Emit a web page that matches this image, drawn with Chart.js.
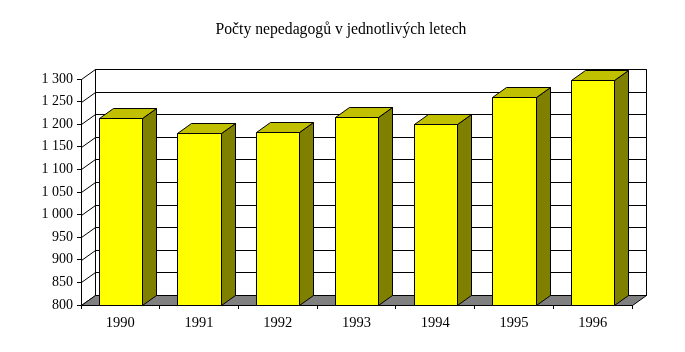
<!DOCTYPE html>
<html>
<head>
<meta charset="utf-8">
<script src="https://cdn.jsdelivr.net/npm/chart.js@4/dist/chart.umd.min.js"></script>
<style>
  html, body { margin: 0; padding: 0; background: #ffffff; }
  #wrap { width: 685px; height: 352px; position: relative; }
</style>
</head>
<body>
<div id="wrap"><canvas id="c" width="685" height="352"></canvas></div>
<script>
const title = 'Počty nepedagogů v jednotlivých letech';
const years = ['1990', '1991', '1992', '1993', '1994', '1995', '1996'];
const counts = [1214, 1180, 1182, 1217, 1200, 1260, 1297];
const yMin = 800;
const yMax = 1300;
const yStep = 50;

const DX = 14, DY = -10;
const FONT = 'Liberation Serif, Times New Roman, serif';

function fmt(v) {
  const s = String(Math.round(v));
  return s.length > 3 ? s.slice(0, s.length - 3) + ' ' + s.slice(-3) : s;
}

const box3d = {
  id: 'box3d',
  beforeDatasetsDraw(chart) {
    const ctx = chart.ctx;
    const a = chart.chartArea;
    const ys = chart.scales.y;
    const L = Math.round(a.left) + 0.5, R = Math.round(a.right) + 0.5;
    const T = Math.round(a.top) + 0.5, B = Math.round(a.bottom) + 0.5;
    ctx.save();
    // title
    ctx.fillStyle = '#000';
    ctx.font = '15.7px ' + FONT;
    ctx.textAlign = 'center';
    ctx.textBaseline = 'alphabetic';
    ctx.fillText(title, 341, 34);
    ctx.lineWidth = 1;
    ctx.strokeStyle = '#000';
    // back wall
    ctx.fillStyle = '#fff';
    ctx.beginPath();
    ctx.rect(L + DX, T + DY, R - L, B - T);
    ctx.fill();
    ctx.stroke();
    // gridlines on back wall and left wall
    for (let v = yMin; v <= yMax; v += yStep) {
      const y = Math.round(ys.getPixelForValue(v)) + 0.5;
      ctx.beginPath();
      ctx.moveTo(L, y);
      ctx.lineTo(L + DX, y + DY);
      ctx.lineTo(R + DX, y + DY);
      ctx.stroke();
    }
    // left wall edge
    ctx.beginPath();
    ctx.moveTo(L, B);
    ctx.lineTo(L, T);
    ctx.stroke();
    // floor
    ctx.fillStyle = '#808080';
    ctx.beginPath();
    ctx.moveTo(L, B);
    ctx.lineTo(R, B);
    ctx.lineTo(R + DX, B + DY);
    ctx.lineTo(L + DX, B + DY);
    ctx.closePath();
    ctx.fill();
    ctx.stroke();
    ctx.restore();
  },
  afterDatasetsDraw(chart) {
    const ctx = chart.ctx;
    const a = chart.chartArea;
    const meta = chart.getDatasetMeta(0);
    ctx.save();
    ctx.lineWidth = 1;
    ctx.strokeStyle = '#000';
    meta.data.forEach(el => {
      const p = el.getProps(['x', 'y', 'base', 'width'], true);
      const l = Math.round(p.x - p.width / 2) + 0.5;
      const r = Math.round(p.x + p.width / 2) + 0.5;
      const t = Math.round(p.y) + 0.5;
      const b = Math.round(Math.min(p.base, a.bottom)) + 0.5;
      // side
      ctx.fillStyle = '#808000';
      ctx.beginPath();
      ctx.moveTo(r, b);
      ctx.lineTo(r, t);
      ctx.lineTo(r + DX, t + DY);
      ctx.lineTo(r + DX, b + DY);
      ctx.closePath();
      ctx.fill();
      ctx.stroke();
      // top
      ctx.fillStyle = '#c0c000';
      ctx.beginPath();
      ctx.moveTo(l, t);
      ctx.lineTo(r, t);
      ctx.lineTo(r + DX, t + DY);
      ctx.lineTo(l + DX, t + DY);
      ctx.closePath();
      ctx.fill();
      ctx.stroke();
      // front
      ctx.fillStyle = '#ffff00';
      ctx.beginPath();
      ctx.rect(l, t, r - l, b - t);
      ctx.fill();
      ctx.stroke();
    });
    ctx.restore();
  }
};

new Chart(document.getElementById('c'), {
  type: 'bar',
  data: {
    labels: years,
    datasets: [{
      data: counts,
      backgroundColor: 'rgba(0,0,0,0)',
      borderColor: 'rgba(0,0,0,0)',
      borderWidth: 0,
      categoryPercentage: 1,
      barPercentage: 0.55
    }]
  },
  options: {
    responsive: false,
    animation: false,
    events: [],
    layout: { padding: { left: 0, right: 53, top: 79, bottom: 0 } },
    plugins: {
      legend: { display: false },
      tooltip: { enabled: false },
      title: { display: false }
    },
    scales: {
      x: {
        grid: { display: true, drawOnChartArea: false, drawTicks: true, tickLength: 4, color: '#000', offset: true },
        border: { display: true, color: '#000' },
        ticks: { color: '#000', font: { family: FONT, size: 14.5 }, padding: 5, maxRotation: 0 },
        afterFit(s) { s.height = 47; }
      },
      y: {
        min: yMin,
        max: yMax,
        grid: { display: true, drawOnChartArea: false, drawTicks: true, tickLength: 4, color: '#000' },
        border: { display: true, color: '#000' },
        ticks: { stepSize: yStep, color: '#000', font: { family: FONT, size: 14 }, padding: 4, callback: v => fmt(v) },
        afterFit(s) { s.width = 81; }
      }
    }
  },
  plugins: [box3d]
});
</script>
</body>
</html>
